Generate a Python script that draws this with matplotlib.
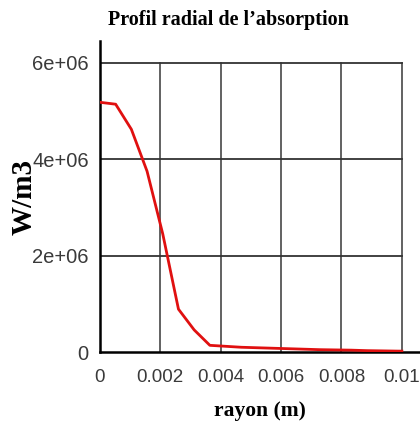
import matplotlib.pyplot as plt
import numpy as np

# Profil radial
rayon = [0, 0.00052, 0.00104, 0.00156, 0.00208, 0.0026, 0.00312, 0.00364,
         0.00416, 0.00468, 0.0052, 0.00572, 0.00624, 0.00676, 0.00728,
         0.0078, 0.00832, 0.00884, 0.00936, 0.00988, 0.01]
absorption = [5.18e6, 5.14e6, 4.62e6, 3.75e6, 2.45e6, 0.89e6, 0.46e6, 0.14e6,
              0.12e6, 0.10e6, 0.09e6, 0.08e6, 0.07e6, 0.06e6, 0.05e6,
              0.045e6, 0.04e6, 0.03e6, 0.025e6, 0.02e6, 0.02e6]

xticks = [0, 0.002, 0.004, 0.006, 0.008, 0.01]
xticklabels = ['0', '0.002', '0.004', '0.006', '0.008', '0.01']
yticks = [0, 2e6, 4e6, 6e6]
yticklabels = ['0', '2e+06', '4e+06', '6e+06']

tick_font = ['Liberation Sans', 'DejaVu Sans']
serif_font = ['Liberation Serif', 'DejaVu Serif']

fig = plt.figure(figsize=(4.2, 4.32), dpi=100)
ax = fig.add_axes([0.238, 0.185, 0.762, 0.72])

# grille limitée au domaine [0, 0.01] x [0, 6e6]
for x in xticks[1:]:
    ax.plot([x, x], [0, 6e6], color='#555555', linewidth=1.3, zorder=1)
for y in yticks[1:]:
    ax.plot([0, 0.01], [y, y], color='#333333', linewidth=1.3, zorder=1)

ax.plot(rayon, absorption, color='#e01010', linewidth=2, zorder=3)

ax.set_xlim(0, 0.0106)
ax.set_ylim(0, 6.45e6)
ax.set_xticks(xticks)
ax.set_xticklabels(xticklabels, family=tick_font, fontsize=13.5, color='#3a3a3a')
ax.set_yticks(yticks)
ax.set_yticklabels(yticklabels, family=tick_font, fontsize=14.5, color='#3a3a3a')
ax.tick_params(axis='both', length=0)
ax.tick_params(axis='x', pad=12)
ax.tick_params(axis='y', pad=8)

for s in ['top', 'right']:
    ax.spines[s].set_visible(False)
for s in ['left', 'bottom']:
    ax.spines[s].set_linewidth(1.8)
    ax.spines[s].set_color('black')

ax.set_xlabel('rayon (m)', family=serif_font, fontweight='bold', fontsize=15.5)
ax.xaxis.set_label_coords(0.5, -0.158)
ax.set_ylabel('W/m3', family=serif_font, fontweight='bold', fontsize=21)
ax.yaxis.set_label_coords(-0.195, 0.5)

fig.text(0.543, 0.953, 'Profil radial de l\u2019absorption', family=serif_font,
         fontweight='bold', fontsize=14.5, ha='center', va='center')

fig.savefig('out.png', dpi=100)
